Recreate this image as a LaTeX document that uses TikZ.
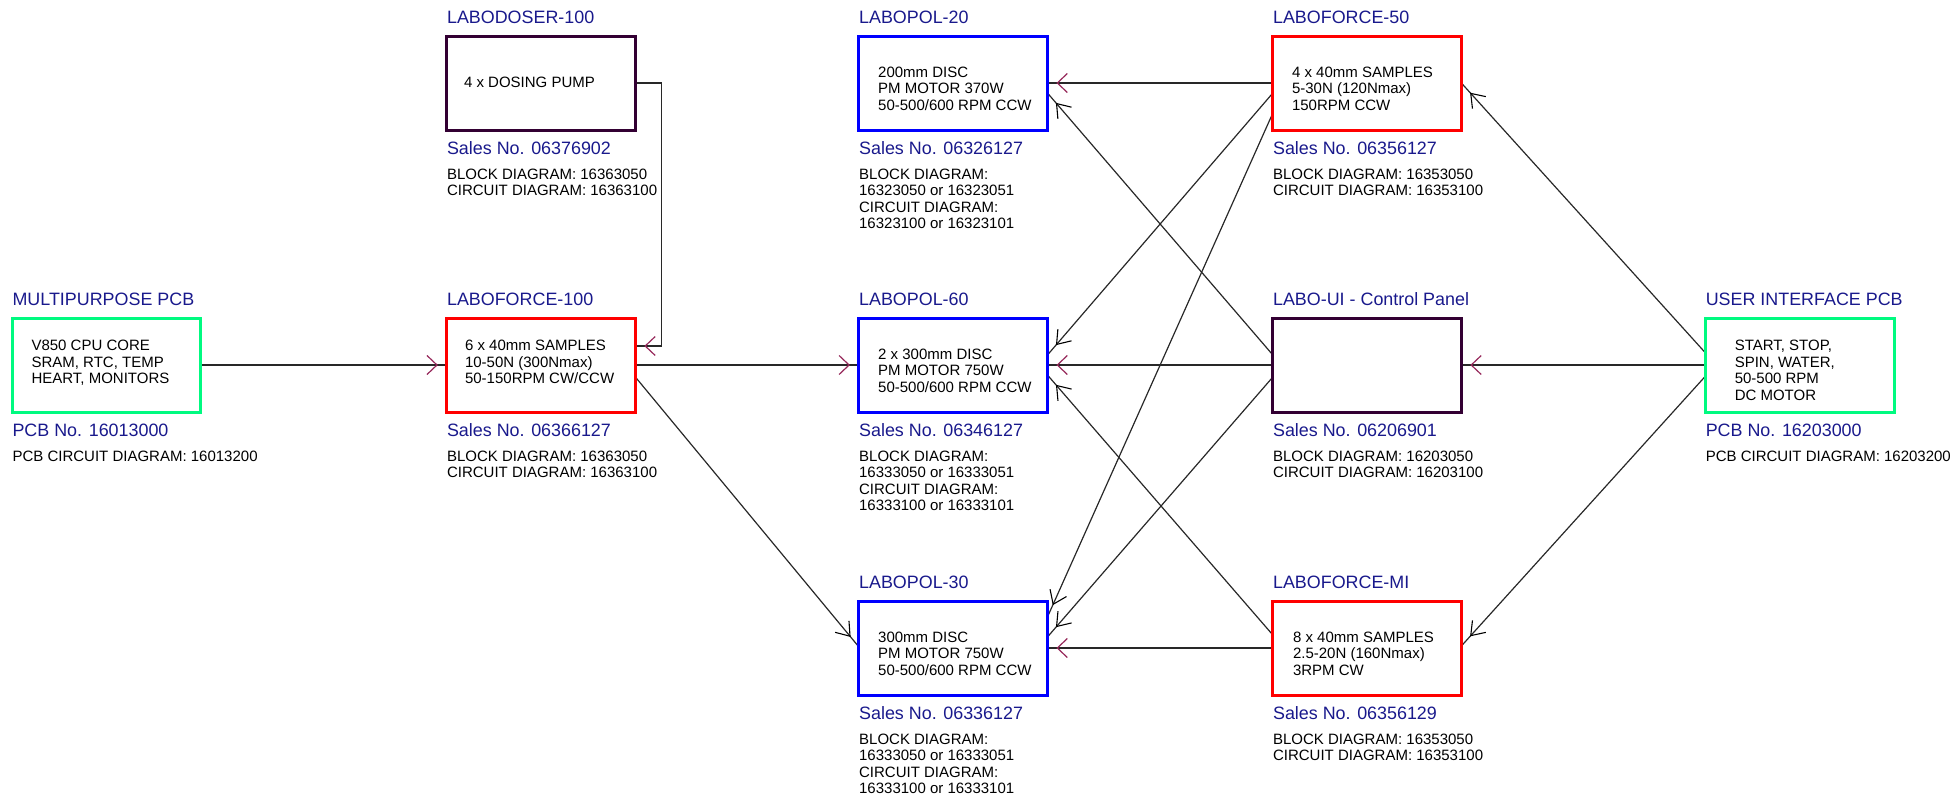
\documentclass[tikz,border=0pt]{standalone}
\usepackage{fontspec}
\setmainfont{Liberation Sans}
\usetikzlibrary{arrows.meta,decorations.markings}
\definecolor{ttlblue}{RGB}{25,25,140}
\definecolor{bxgreen}{RGB}{0,250,128}
\definecolor{bxred}{RGB}{255,0,0}
\definecolor{bxblue}{RGB}{0,0,255}
\definecolor{bxplum}{RGB}{51,0,51}
\definecolor{arrmag}{RGB}{150,40,90}
\definecolor{wirecol}{RGB}{40,40,40}
\newcommand\txtlines[1]{\begin{tabular}[t]{@{}l@{}}#1\end{tabular}}
\pgfdeclarelayer{bg}
\pgfsetlayers{bg,main}
\tikzset{
  bx/.style={draw, line width=3pt, minimum width=188.5pt, minimum height=94pt, inner sep=0pt, outer sep=0pt},
  ttl/.style={anchor=base west, inner sep=0pt, text=ttlblue, font=\fontsize{17.9}{20}\selectfont},
  txt/.style={anchor=base west, inner sep=0pt, font=\fontsize{15}{16.8}\selectfont},
  txd/.style={anchor=base west, inner sep=0pt, font=\fontsize{15}{16.3}\selectfont},
  wire/.style={draw=wirecol, line width=1.2pt},
  magarrow/.style={wire, postaction=decorate, decoration={markings, mark=at position -9pt with {\arrow[line width=1.2pt]{Straight Barb[length=10pt,width=19pt,color=arrmag]}}}},
  blkarrow/.style={wire, postaction=decorate, decoration={markings, mark=at position -13pt with {\arrow[line width=1.1pt]{Straight Barb[length=12.5pt,width=18pt,color=black]}}}}
}
\begin{document}
\begin{tikzpicture}[x=1pt,y=-1pt]
\useasboundingbox (0,0) rectangle (1955,795);
% boxes
\node[bx, draw=bxgreen] (mp) at (106.6,365) {};
\node[bx, draw=bxplum] (dos) at (541.1,83) {};
\node[bx, draw=bxred] (lf100) at (541.1,365) {};
\node[bx, draw=bxblue] (lp20) at (953.2,83) {};
\node[bx, draw=bxblue] (lp60) at (953.2,365) {};
\node[bx, draw=bxblue] (lp30) at (953.2,648) {};
\node[bx, draw=bxred] (lf50) at (1367.1,83) {};
\node[bx, draw=bxplum] (labui) at (1367.1,365) {};
\node[bx, draw=bxred] (lfmi) at (1367.1,648) {};
\node[bx, draw=bxgreen] (ui) at (1799.8,365) {};
% texts in boxes
\node[txt] (mpx) at ([xshift=19pt,yshift=-32.3pt]mp.north west) {\txtlines{V850 CPU CORE\\SRAM, RTC, TEMP\\HEART, MONITORS}};
\node[txt] (dosx) at ([xshift=17pt,yshift=-51pt]dos.north west) {\txtlines{4 x DOSING PUMP}};
\node[txt] (lf100x) at ([xshift=18pt,yshift=-32.3pt]lf100.north west) {\txtlines{6 x 40mm SAMPLES\\10-50N (300Nmax)\\50-150RPM CW/CCW}};
\node[txt] (lp20x) at ([xshift=19pt,yshift=-41pt]lp20.north west) {\txtlines{200mm DISC\\PM MOTOR 370W\\50-500/600 RPM CCW}};
\node[txt] (lp60x) at ([xshift=19pt,yshift=-41pt]lp60.north west) {\txtlines{2 x 300mm DISC\\PM MOTOR 750W\\50-500/600 RPM CCW}};
\node[txt] (lp30x) at ([xshift=19pt,yshift=-41pt]lp30.north west) {\txtlines{300mm DISC\\PM MOTOR 750W\\50-500/600 RPM CCW}};
\node[txt] (lf50x) at ([xshift=19pt,yshift=-41pt]lf50.north west) {\txtlines{4 x 40mm SAMPLES\\5-30N (120Nmax)\\150RPM CCW}};
\node[txt] (lfmix) at ([xshift=20pt,yshift=-41pt]lfmi.north west) {\txtlines{8 x 40mm SAMPLES\\2.5-20N (160Nmax)\\3RPM CW}};
\node[txt] (uix) at ([xshift=29pt,yshift=-32.3pt]ui.north west) {\txtlines{START, STOP,\\SPIN, WATER,\\50-500 RPM\\DC MOTOR}};
% titles
\node[ttl] (mpt) at ([yshift=12.5pt]mp.north west) {MULTIPURPOSE PCB};
\node[ttl] (dost) at ([yshift=12.5pt]dos.north west) {LABODOSER-100};
\node[ttl] (lf100t) at ([yshift=12.5pt]lf100.north west) {LABOFORCE-100};
\node[ttl] (lp20t) at ([yshift=12.5pt]lp20.north west) {LABOPOL-20};
\node[ttl] (lp60t) at ([yshift=12.5pt]lp60.north west) {LABOPOL-60};
\node[ttl] (lp30t) at ([yshift=12.5pt]lp30.north west) {LABOPOL-30};
\node[ttl] (lf50t) at ([yshift=12.5pt]lf50.north west) {LABOFORCE-50};
\node[ttl] (labuit) at ([yshift=12.5pt]labui.north west) {LABO-UI - Control Panel};
\node[ttl] (lfmit) at ([yshift=12.5pt]lfmi.north west) {LABOFORCE-MI};
\node[ttl] (uit) at ([yshift=12.5pt]ui.north west) {USER INTERFACE PCB};
% sales numbers
\node[ttl] (mps) at ([yshift=-24.5pt]mp.south west) {PCB No. 16013000};
\node[ttl] (doss) at ([yshift=-24.5pt]dos.south west) {Sales No. 06376902};
\node[ttl] (lf100s) at ([yshift=-24.5pt]lf100.south west) {Sales No. 06366127};
\node[ttl] (lp20s) at ([yshift=-24.5pt]lp20.south west) {Sales No. 06326127};
\node[ttl] (lp60s) at ([yshift=-24.5pt]lp60.south west) {Sales No. 06346127};
\node[ttl] (lp30s) at ([yshift=-24.5pt]lp30.south west) {Sales No. 06336127};
\node[ttl] (lf50s) at ([yshift=-24.5pt]lf50.south west) {Sales No. 06356127};
\node[ttl] (labuis) at ([yshift=-24.5pt]labui.south west) {Sales No. 06206901};
\node[ttl] (lfmis) at ([yshift=-24.5pt]lfmi.south west) {Sales No. 06356129};
\node[ttl] (uis) at ([yshift=-24.5pt]ui.south west) {PCB No. 16203000};
% details
\node[txd] (mpd) at ([yshift=-49.5pt]mp.south west) {\txtlines{PCB CIRCUIT DIAGRAM: 16013200}};
\node[txd] (dosd) at ([yshift=-49.5pt]dos.south west) {\txtlines{BLOCK DIAGRAM: 16363050\\CIRCUIT DIAGRAM: 16363100}};
\node[txd] (lf100d) at ([yshift=-49.5pt]lf100.south west) {\txtlines{BLOCK DIAGRAM: 16363050\\CIRCUIT DIAGRAM: 16363100}};
\node[txd] (lp20d) at ([yshift=-49.5pt]lp20.south west) {\txtlines{BLOCK DIAGRAM:\\16323050 or 16323051\\CIRCUIT DIAGRAM:\\16323100 or 16323101}};
\node[txd] (lp60d) at ([yshift=-49.5pt]lp60.south west) {\txtlines{BLOCK DIAGRAM:\\16333050 or 16333051\\CIRCUIT DIAGRAM:\\16333100 or 16333101}};
\node[txd] (lp30d) at ([yshift=-49.5pt]lp30.south west) {\txtlines{BLOCK DIAGRAM:\\16333050 or 16333051\\CIRCUIT DIAGRAM:\\16333100 or 16333101}};
\node[txd] (lf50d) at ([yshift=-49.5pt]lf50.south west) {\txtlines{BLOCK DIAGRAM: 16353050\\CIRCUIT DIAGRAM: 16353100}};
\node[txd] (labuid) at ([yshift=-49.5pt]labui.south west) {\txtlines{BLOCK DIAGRAM: 16203050\\CIRCUIT DIAGRAM: 16203100}};
\node[txd] (lfmid) at ([yshift=-49.5pt]lfmi.south west) {\txtlines{BLOCK DIAGRAM: 16353050\\CIRCUIT DIAGRAM: 16353100}};
\node[txd] (uid) at ([yshift=-49.5pt]ui.south west) {\txtlines{PCB CIRCUIT DIAGRAM: 16203200}};
% connectors
\begin{pgfonlayer}{bg}
\draw[magarrow] (mp.east) -- (lf100.west);
\draw[magarrow] (dos.east) -- ++(26.5,0) |- ([yshift=19pt]lf100.east);
\draw[magarrow] (lf100.east) -- (lp60.west);
\draw[blkarrow] ([yshift=-12pt]lf100.east) -- ([yshift=1pt]lp30.west);
\draw[magarrow] (lf50.west) -- (lp20.east);
\draw[blkarrow] ([yshift=10pt]labui.west) -- ([yshift=-10pt]lp20.east);
\draw[blkarrow] ([yshift=-10pt]lf50.west) -- ([yshift=10pt]lp60.east);
\draw[blkarrow] ([yshift=-30pt]lf50.west) -- ([yshift=31pt]lp30.east);
\draw[magarrow] (labui.west) -- (lp60.east);
\draw[blkarrow] ([yshift=13pt]lfmi.west) -- ([yshift=-10pt]lp60.east);
\draw[blkarrow] ([yshift=-12pt]labui.west) -- ([yshift=11pt]lp30.east);
\draw[magarrow] (lfmi.west) -- (lp30.east);
\draw[magarrow] (ui.west) -- (labui.east);
\draw[blkarrow] ([yshift=12pt]ui.west) -- (lf50.east);
\draw[blkarrow] ([yshift=-11pt]ui.west) -- ([yshift=2pt]lfmi.east);
\end{pgfonlayer}
\end{tikzpicture}
\end{document}
